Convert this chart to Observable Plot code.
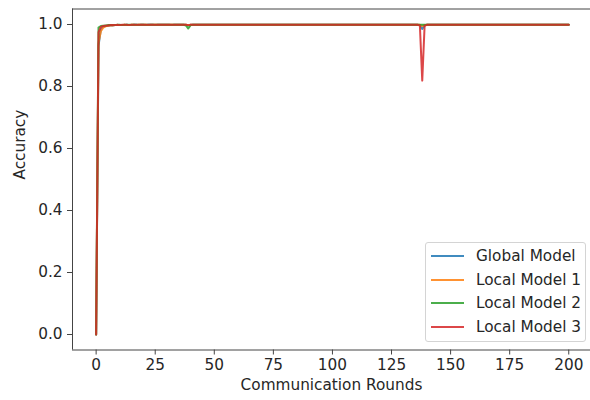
<!DOCTYPE html>
<html>
<head>
<meta charset="utf-8">
<script src="https://cdn.jsdelivr.net/npm/d3@7"></script>
<script src="https://cdn.jsdelivr.net/npm/@observablehq/plot@0.6"></script>
<style>
  html, body { margin: 0; background: #fff; overflow: hidden; }
  #wrap { position: relative; width: 590px; height: 400px; overflow: hidden; font-family: "DejaVu Sans", sans-serif; }
  #legend { position: absolute; left: 425px; top: 242px; width: 161px; height: 100px; border: 1px solid #d4d4d4; border-radius: 3px; background: rgba(255,255,255,0.85); box-sizing: border-box; }
  .row { position: absolute; left: 0; height: 20px; }
  .swatch { position: absolute; left: 5px; width: 33px; height: 2px; opacity: 0.85; }
  .lbl { position: absolute; left: 50px; font-size: 15.3px; color: #262626; white-space: nowrap; line-height: 18px; }
</style>
</head>
<body>
<div id="wrap"><div id="legend"></div></div>
<script>
const modelNames = ["Global Model", "Local Model 1", "Local Model 2", "Local Model 3"];
const modelColors = ["#1f77b4", "#ff7f0e", "#2ca02c", "#d62728"];
const xTicks = [0, 25, 50, 75, 100, 125, 150, 175, 200];
const yTicks = [0.0, 0.2, 0.4, 0.6, 0.8, 1.0];

const globalAcc = [
  0, .930, .985, .993, .995, .996, .997, .997, .998, .998,
  .998, .998, .998, .999, .998, .998, .999, .999, .998, .999,
  .999, .998, .999, .999, .999, .998, .999, .999, .999, .999,
  .999, .999, .998, .999, .999, .999, .999, .999, .999, .997,
  .999, .999, .999, .999, .999, .999, .999, .999, .999, .999,
  .999, .999, .999, .999, .999, .999, .999, .999, .999, .999,
  .999, .999, .999, .999, .999, .999, .999, .999, .999, .999,
  .999, .999, .999, .999, .999, .999, .999, .999, .999, .999,
  .999, .999, .999, .999, .999, .999, .999, .999, .999, .999,
  .999, .999, .999, .999, .999, .999, .999, .999, .999, .999,
  .999, .999, .999, .999, .999, .999, .999, .999, .999, .999,
  .999, .999, .999, .999, .999, .999, .999, .999, .999, .999,
  .999, .999, .999, .999, .999, .999, .999, .999, .999, .999,
  .999, .999, .999, .999, .999, .999, .999, .998, .986, .997,
  .999, .999, .999, .999, .999, .999, .999, .999, .999, .999,
  .999, .999, .999, .999, .999, .999, .999, .999, .999, .999,
  .999, .999, .999, .999, .999, .999, .999, .999, .999, .999,
  .999, .999, .999, .999, .999, .999, .999, .999, .999, .999,
  .999, .999, .999, .999, .999, .999, .999, .999, .999, .999,
  .999, .999, .999, .999, .999, .999, .999, .999, .999, .999,
  .999
];
const local1Acc = [
  0, .940, .978, .990, .994, .996, .997, .997, .998, .998,
  .998, .998, .999, .998, .998, .999, .999, .998, .999, .999,
  .999, .999, .998, .999, .999, .999, .999, .999, .999, .999,
  .999, .999, .999, .999, .999, .999, .999, .999, .999, .998,
  .999, .999, .999, .999, .999, .999, .999, .999, .999, .999,
  .999, .999, .999, .999, .999, .999, .999, .999, .999, .999,
  .999, .999, .999, .999, .999, .999, .999, .999, .999, .999,
  .999, .999, .999, .999, .999, .999, .999, .999, .999, .999,
  .999, .999, .999, .999, .999, .999, .999, .999, .999, .999,
  .999, .999, .999, .999, .999, .999, .999, .999, .999, .999,
  .999, .999, .999, .999, .999, .999, .999, .999, .999, .999,
  .999, .999, .999, .999, .999, .999, .999, .999, .999, .999,
  .999, .999, .999, .999, .999, .999, .999, .999, .999, .999,
  .999, .999, .999, .999, .999, .999, .999, .999, .995, .998,
  .999, .999, .999, .999, .999, .999, .999, .999, .999, .999,
  .999, .999, .999, .999, .999, .999, .999, .999, .999, .999,
  .999, .999, .999, .999, .999, .999, .999, .999, .999, .999,
  .999, .999, .999, .999, .999, .999, .999, .999, .999, .999,
  .999, .999, .999, .999, .999, .999, .999, .999, .999, .999,
  .999, .999, .999, .999, .999, .999, .999, .999, .999, .999,
  .999
];
const local2Acc = [
  0, .990, .995, .996, .997, .998, .998, .998, .998, .999,
  .999, .998, .999, .999, .999, .999, .999, .999, .999, .999,
  .999, .999, .999, .999, .999, .999, .999, .999, .999, .999,
  .999, .999, .999, .999, .999, .999, .999, .999, .997, .987,
  .998, .999, .999, .999, .999, .999, .999, .999, .999, .999,
  .999, .999, .999, .999, .999, .999, .999, .999, .999, .999,
  .999, .999, .999, .999, .999, .999, .999, .999, .999, .999,
  .999, .999, .999, .999, .999, .999, .999, .999, .999, .999,
  .999, .999, .999, .999, .999, .999, .999, .999, .999, .999,
  .999, .999, .999, .999, .999, .999, .999, .999, .999, .999,
  .999, .999, .999, .999, .999, .999, .999, .999, .999, .999,
  .999, .999, .999, .999, .999, .999, .999, .999, .999, .999,
  .999, .999, .999, .999, .999, .999, .999, .999, .999, .999,
  .999, .999, .999, .999, .999, .999, .999, .999, .999, .999,
  .999, .999, .999, .999, .999, .999, .999, .999, .999, .999,
  .999, .999, .999, .999, .999, .999, .999, .999, .999, .999,
  .999, .999, .999, .999, .999, .999, .999, .999, .999, .999,
  .999, .999, .999, .999, .999, .999, .999, .999, .999, .999,
  .999, .999, .999, .999, .999, .999, .999, .999, .999, .999,
  .999, .999, .999, .999, .999, .999, .999, .999, .999, .999,
  .999
];
const local3Acc = [
  0, .975, .992, .995, .996, .997, .998, .998, .998, .999,
  .998, .999, .999, .999, .998, .999, .999, .999, .999, .999,
  .999, .999, .999, .999, .999, .999, .999, .999, .999, .999,
  .999, .999, .999, .999, .999, .999, .999, .999, .999, .998,
  .999, .999, .999, .999, .999, .999, .999, .999, .999, .999,
  .999, .999, .999, .999, .999, .999, .999, .999, .999, .999,
  .999, .999, .999, .999, .999, .999, .999, .999, .999, .999,
  .999, .999, .999, .999, .999, .999, .999, .999, .999, .999,
  .999, .999, .999, .999, .999, .999, .999, .999, .999, .999,
  .999, .999, .999, .999, .999, .999, .999, .999, .999, .999,
  .999, .999, .999, .999, .999, .999, .999, .999, .999, .999,
  .999, .999, .999, .999, .999, .999, .999, .999, .999, .999,
  .999, .999, .999, .999, .999, .999, .999, .999, .999, .999,
  .999, .999, .999, .999, .999, .999, .999, .997, .819, .996,
  .999, .999, .999, .999, .999, .999, .999, .999, .999, .999,
  .999, .999, .999, .999, .999, .999, .999, .999, .999, .999,
  .999, .999, .999, .999, .999, .999, .999, .999, .999, .999,
  .999, .999, .999, .999, .999, .999, .999, .999, .999, .999,
  .999, .999, .999, .999, .999, .999, .999, .999, .999, .999,
  .999, .999, .999, .999, .999, .999, .999, .999, .999, .999,
  .999
];

const seriesValues = [globalAcc, local1Acc, local2Acc, local3Acc];
const table = seriesValues.flatMap((vals, k) =>
  vals.map((v, i) => ({round: i, acc: v, model: modelNames[k]})));

const axisColor = "#444";
const fs = 15.3;
const chart = Plot.plot({
  width: 590,
  height: 400,
  marginLeft: 72,
  marginRight: 0,
  marginTop: 8.5,
  marginBottom: 50.5,
  style: {fontFamily: "DejaVu Sans, sans-serif", fontSize: fs + "px", color: "#262626", background: "white", overflow: "hidden"},
  x: {domain: [-10, 209.2], ticks: xTicks, tickFormat: d3.format("d"), tickSize: 5, tickPadding: 4, label: null},
  y: {domain: [-0.05, 1.05], ticks: yTicks, tickFormat: d3.format(".1f"), tickSize: 5, tickPadding: 5, label: null},
  color: {domain: modelNames, range: modelColors},
  marks: [
    Plot.lineY(table, {x: "round", y: "acc", stroke: "model", z: "model", strokeWidth: 2, strokeOpacity: 0.85}),
    Plot.ruleY([-0.05, 1.05], {stroke: axisColor, strokeWidth: 1}),
    Plot.ruleX([-10], {stroke: axisColor, strokeWidth: 1}),
    Plot.text(["Accuracy"], {text: d => d, frameAnchor: "left", rotate: -90, dx: -52, fill: "#262626", fontSize: fs}),
    Plot.text(["Communication Rounds"], {text: d => d, frameAnchor: "bottom", dy: 40, fill: "#262626", fontSize: fs})
  ]
});
chart.querySelectorAll("[aria-label='x-axis tick'] path, [aria-label='y-axis tick'] path").forEach(e => e.setAttribute("stroke", axisColor));
chart.style.position = "absolute";
chart.style.left = "0";
chart.style.top = "0";
document.getElementById("wrap").prepend(chart);

const legend = document.getElementById("legend");
const rowTops = [13, 37, 60, 84];
modelNames.forEach((name, k) => {
  const row = document.createElement("div");
  row.className = "row";
  row.style.top = (rowTops[k] - 10) + "px";
  const sw = document.createElement("div");
  sw.className = "swatch";
  sw.style.top = "9px";
  sw.style.background = modelColors[k];
  const lb = document.createElement("div");
  lb.className = "lbl";
  lb.style.top = "1px";
  lb.textContent = name;
  row.appendChild(sw);
  row.appendChild(lb);
  legend.appendChild(row);
});
</script>
</body>
</html>
